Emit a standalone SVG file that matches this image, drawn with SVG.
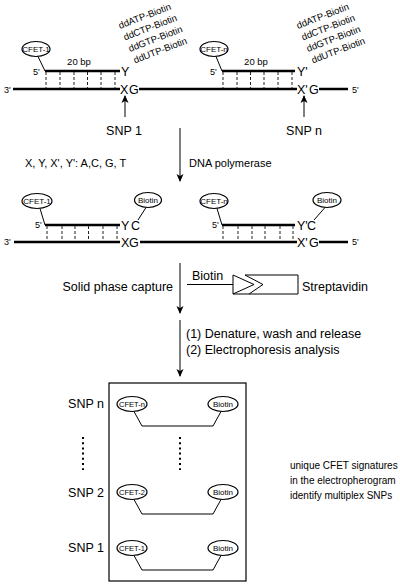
<svg xmlns="http://www.w3.org/2000/svg" width="400" height="586" viewBox="0 0 400 586">
<style>
text{font-family:"Liberation Sans",Arial,sans-serif;fill:#000}
.strand{stroke:#000;stroke-width:2.5;fill:none}
.hash{stroke:#222;stroke-width:1;stroke-dasharray:3,2;fill:none}
.thin{stroke:#000;stroke-width:1;fill:none}
.ell{fill:#fff;stroke:#000;stroke-width:1.2}
.base{font-size:12.5px}
.end{font-size:9px}
.nt{font-size:9.5px}
.lbl{font-size:8px}
.lbl7{font-size:7.5px}
.big{font-size:12.5px}
.mid{font-size:11px}
.snp{font-size:12.5px}
.sm{font-size:10px}
.dots{stroke:#000;stroke-width:2;stroke-dasharray:2,3.2;fill:none}
</style>
<defs>
<marker id="ah" markerWidth="8" markerHeight="10" refX="7" refY="5" orient="auto" markerUnits="userSpaceOnUse" viewBox="0 0 8 10">
<path d="M0,1.5 L8,5 L0,8.5 L2,5 Z" fill="#000"/>
</marker>
</defs>

<!-- Top row -->
<g id="top-template">
<text class="end" x="4" y="93">3'</text>
<line class="strand" x1="13" y1="89" x2="120" y2="89"/>
<text class="base" x="120" y="94">X</text>
<text class="base" x="129" y="94">G</text>
<line class="strand" x1="139" y1="89" x2="297" y2="89"/>
<text class="base" x="297" y="94">X'</text>
<text class="base" x="309" y="94">G</text>
<line class="strand" x1="319" y1="89" x2="348" y2="89"/>
<text class="end" x="352" y="93">5'</text>
</g>

<g id="top-primer-1">
<ellipse class="ell" cx="36" cy="49" rx="14" ry="7.5"/>
<text class="lbl" x="36" y="52" text-anchor="middle">CFET-1</text>
<line class="thin" x1="38" y1="56.5" x2="45" y2="71"/>
<text class="end" x="33" y="75">5'</text>
<line class="strand" x1="45" y1="71" x2="120" y2="71"/>
<text class="nt" x="79" y="65" text-anchor="middle">20 bp</text>
<text class="base" x="121" y="76">Y</text>
<g class="hash">
<line x1="46" y1="72" x2="46" y2="88"/><line x1="60" y1="72" x2="60" y2="88"/>
<line x1="74" y1="72" x2="74" y2="88"/><line x1="87.5" y1="72" x2="87.5" y2="88"/>
<line x1="101" y1="72" x2="101" y2="88"/><line x1="115" y1="72" x2="115" y2="88"/>
</g>
</g>

<g id="top-primer-n">
<ellipse class="ell" cx="214" cy="49" rx="14" ry="7.5"/>
<text class="lbl" x="214" y="52" text-anchor="middle">CFET-n</text>
<line class="thin" x1="216" y1="56.5" x2="222" y2="71"/>
<text class="end" x="210" y="75">5'</text>
<line class="strand" x1="222" y1="71" x2="295" y2="71"/>
<text class="nt" x="256" y="65" text-anchor="middle">20 bp</text>
<text class="base" x="297" y="76">Y'</text>
<g class="hash">
<line x1="223" y1="72" x2="223" y2="88"/><line x1="237" y1="72" x2="237" y2="88"/>
<line x1="250.5" y1="72" x2="250.5" y2="88"/><line x1="264" y1="72" x2="264" y2="88"/>
<line x1="278" y1="72" x2="278" y2="88"/><line x1="292" y1="72" x2="292" y2="88"/>
</g>
</g>

<g id="ddntp-1">
<text class="nt" x="120" y="29" transform="rotate(-21 120 29)">ddATP-Biotin</text>
<text class="nt" x="125" y="40.5" transform="rotate(-21 125 40.5)">ddCTP-Biotin</text>
<text class="nt" x="130" y="52" transform="rotate(-21 130 52)">ddGTP-Biotin</text>
<text class="nt" x="135" y="63.5" transform="rotate(-21 135 63.5)">ddUTP-Biotin</text>
</g>
<g id="ddntp-n">
<text class="nt" x="298" y="29" transform="rotate(-21 298 29)">ddATP-Biotin</text>
<text class="nt" x="303" y="40.5" transform="rotate(-21 303 40.5)">ddCTP-Biotin</text>
<text class="nt" x="308" y="52" transform="rotate(-21 308 52)">ddGTP-Biotin</text>
<text class="nt" x="313" y="63.5" transform="rotate(-21 313 63.5)">ddUTP-Biotin</text>
</g>

<g id="snp1-label"><text class="snp" x="124" y="135" text-anchor="middle">SNP 1</text></g>
<g id="snpn-label"><text class="snp" x="304" y="135" text-anchor="middle">SNP n</text></g>

<g id="legend"><text class="mid" x="25" y="167">X, Y, X', Y': A,C, G, T</text></g>
<g id="step-polymerase"><text class="mid" x="189" y="167">DNA polymerase</text></g>

<!-- Second row -->
<g id="mid-template">
<text class="end" x="4" y="245">3'</text>
<line class="strand" x1="14" y1="242" x2="120" y2="242"/>
<text class="base" x="121" y="247">X</text>
<text class="base" x="129" y="247">G</text>
<line class="strand" x1="140" y1="242" x2="297" y2="242"/>
<text class="base" x="297" y="247">X'</text>
<text class="base" x="309" y="247">G</text>
<line class="strand" x1="319" y1="242" x2="348" y2="242"/>
<text class="end" x="352" y="245">5'</text>
</g>

<g id="mid-primer-1">
<ellipse class="ell" cx="37" cy="201" rx="15" ry="7.5"/>
<text class="lbl" x="37" y="204" text-anchor="middle">CFET-1</text>
<line class="thin" x1="40" y1="208.5" x2="45" y2="225"/>
<text class="end" x="35" y="228">5'</text>
<line class="strand" x1="45" y1="225" x2="120" y2="225"/>
<text class="base" x="121" y="230">Y</text>
<text class="base" x="131" y="230">C</text>
<g class="hash">
<line x1="47" y1="226" x2="47" y2="241"/><line x1="62" y1="226" x2="62" y2="241"/>
<line x1="75" y1="226" x2="75" y2="241"/><line x1="88.5" y1="226" x2="88.5" y2="241"/>
<line x1="103" y1="226" x2="103" y2="241"/><line x1="117" y1="226" x2="117" y2="241"/>
</g>
<ellipse class="ell" cx="148" cy="200" rx="13.5" ry="7.5"/>
<text class="lbl" x="148" y="203" text-anchor="middle">Biotin</text>
<line class="thin" x1="146" y1="207.5" x2="138" y2="220"/>
</g>

<g id="mid-primer-n">
<ellipse class="ell" cx="214" cy="201" rx="14" ry="7.5"/>
<text class="lbl" x="214" y="204" text-anchor="middle">CFET-n</text>
<line class="thin" x1="217" y1="208.5" x2="222" y2="225"/>
<text class="end" x="212" y="228">5'</text>
<line class="strand" x1="222" y1="225" x2="295" y2="225"/>
<text class="base" x="297" y="230">Y'</text>
<text class="base" x="307" y="230">C</text>
<g class="hash">
<line x1="223" y1="226" x2="223" y2="241"/><line x1="238" y1="226" x2="238" y2="241"/>
<line x1="252" y1="226" x2="252" y2="241"/><line x1="265" y1="226" x2="265" y2="241"/>
<line x1="280" y1="226" x2="280" y2="241"/><line x1="293" y1="226" x2="293" y2="241"/>
</g>
<ellipse class="ell" cx="327" cy="200" rx="14" ry="7.5"/>
<text class="lbl" x="327" y="203" text-anchor="middle">Biotin</text>
<line class="thin" x1="325" y1="207.5" x2="314" y2="220"/>
</g>

<g id="step-capture"><text class="big" x="173" y="291" text-anchor="end">Solid phase capture</text></g>

<g id="biotin-streptavidin">
<text class="big" x="192" y="280">Biotin</text>
<line class="thin" x1="187" y1="284.5" x2="233" y2="284.5"/>
<path class="thin" d="M233,275 L254,284.5 L233,294 Z"/>
<path class="thin" d="M245,275 L298,275 L298,294 L233,294"/>
<path class="thin" d="M245,275 L263,284.5 L249,294"/>
<text class="big" x="302" y="291">Streptavidin</text>
</g>

<g id="step-analysis">
<text class="big" x="186" y="338">(1) Denature, wash and release</text>
<text class="big" x="186" y="354">(2) Electrophoresis analysis</text>
</g>

<!-- Connectors -->
<g id="connectors">
<line class="thin" x1="125" y1="117" x2="125" y2="96" marker-end="url(#ah)"/>
<line class="thin" x1="304" y1="117" x2="304" y2="96" marker-end="url(#ah)"/>
<line class="thin" x1="180" y1="128" x2="180" y2="181" marker-end="url(#ah)"/>
<line class="thin" x1="180" y1="263" x2="180" y2="313" marker-end="url(#ah)"/>
<line class="thin" x1="180" y1="320" x2="180" y2="376" marker-end="url(#ah)"/>
</g>

<!-- Electropherogram box -->
<g id="result-box">
<rect x="109" y="383" width="137" height="198" fill="none" stroke="#000" stroke-width="1.2"/>
</g>

<g id="row-n">
<text class="snp" x="104" y="408" text-anchor="end">SNP n</text>
<ellipse class="ell" cx="132" cy="404" rx="15" ry="7.5"/>
<text class="lbl7" x="132" y="407" text-anchor="middle">CFET-n</text>
<ellipse class="ell" cx="223" cy="404" rx="15" ry="7.5"/>
<text class="lbl" x="223" y="407" text-anchor="middle">Biotin</text>
<path class="thin" d="M134,411.5 L142,426 L213,426 L221,411.5"/>
</g>

<g id="ellipsis">
<line class="dots" x1="83" y1="437" x2="83" y2="470"/>
<line class="dots" x1="180" y1="437" x2="180" y2="470"/>
</g>

<g id="row-2">
<text class="snp" x="104" y="497" text-anchor="end">SNP 2</text>
<ellipse class="ell" cx="132" cy="492" rx="15" ry="7.5"/>
<text class="lbl7" x="132" y="495" text-anchor="middle">CFET-2</text>
<ellipse class="ell" cx="223" cy="492" rx="15" ry="7.5"/>
<text class="lbl" x="223" y="495" text-anchor="middle">Biotin</text>
<path class="thin" d="M134,499.5 L142,514 L213,514 L221,499.5"/>
</g>

<g id="row-1">
<text class="snp" x="104" y="552" text-anchor="end">SNP 1</text>
<ellipse class="ell" cx="132" cy="548" rx="15" ry="7.5"/>
<text class="lbl7" x="132" y="551" text-anchor="middle">CFET-1</text>
<ellipse class="ell" cx="223" cy="548" rx="15" ry="7.5"/>
<text class="lbl" x="223" y="551" text-anchor="middle">Biotin</text>
<path class="thin" d="M134,555.5 L142,570 L213,570 L221,555.5"/>
</g>

<g id="conclusion">
<text class="sm" x="290" y="469">unique CFET signatures</text>
<text class="sm" x="290" y="484">in the electropherogram</text>
<text class="sm" x="290" y="499">identify multiplex SNPs</text>
</g>
</svg>
